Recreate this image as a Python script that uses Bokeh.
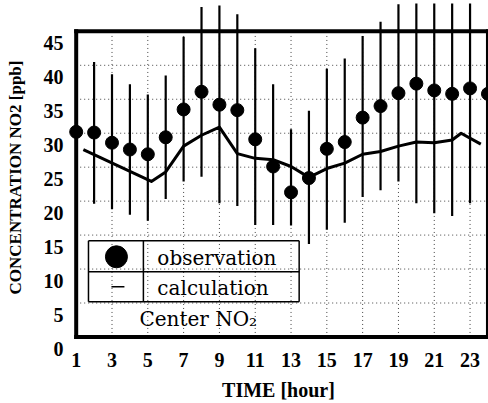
from bokeh.plotting import figure
from bokeh.models import Range1d, LinearAxis, FixedTicker
from bokeh.embed import file_html
from bokeh.resources import INLINE
from bokeh.core.properties import value

# ---------------- data ----------------
hours = list(range(1, 25))
obs = [30.2, 30.1, 28.6, 27.6, 26.9, 29.4, 33.5, 36.1, 34.2, 33.4, 29.1, 25.1,
       21.3, 23.4, 27.7, 28.7, 32.3, 34.0, 35.9, 37.3, 36.3, 35.8, 36.6, 35.8]
obs_low = [20.0, 19.6, 18.8, 18.0, 17.1, 20.3, 22.9, 23.6, 19.7, 19.3, 16.5, 16.5,
           16.4, 13.7, 15.8, 16.8, 20.6, 21.6, 22.9, 19.7, 18.2, 17.8, 19.7, 20.0]
obs_high = [40.4, 40.5, 38.7, 37.2, 35.7, 38.5, 44.2, 48.6, 48.8, 47.5, 42.5, 37.2,
            30.6, 33.3, 39.5, 41.0, 44.3, 46.4, 49.0, 54.9, 54.4, 53.8, 53.5, 44.0]

calc_hours = [1.4, 5.2, 6.0, 7.0, 8.0, 9.0, 10.0, 11.0, 12.0, 13.0, 14.0, 15.0,
              16.0, 17.0, 18.0, 19.0, 20.0, 21.0, 22.0, 22.5, 23.6]
calc = [27.6, 22.9, 24.3, 28.1, 29.7, 30.9, 27.0, 26.3, 26.1, 25.1, 23.5, 24.8,
        25.6, 26.9, 27.3, 28.1, 28.7, 28.6, 29.0, 30.0, 28.4]

x_ticks = [1, 3, 5, 7, 9, 11, 13, 15, 17, 19, 21, 23]
y_ticks = [0, 5, 10, 15, 20, 25, 30, 35, 40, 45]
x_box = [1, 24]
y_box = [0, 45]

# ---------------- layout constants ----------------
PX_PER_UNIT = 6.81
LABEL_SHIFT = 12 / PX_PER_UNIT      # tick labels sit a bit below their grid lines
Y_TOP, Y_BOT = 49.1, -2.14
X_START, X_END = 0.57, 24.03

BLACK = "black"
SERIF = "Liberation Serif"

p = figure(width=488, height=403, output_backend="svg", toolbar_location=None,
           x_range=Range1d(X_START, X_END), y_range=Range1d(Y_BOT, Y_TOP),
           y_axis_location=None,
           min_border_left=68, min_border_right=0, min_border_top=3,
           min_border_bottom=51)
p.outline_line_color = None
p.grid.visible = False
p.background_fill_color = "white"
p.border_fill_color = "white"

# x axis
xa = p.xaxis[0]
xa.ticker = FixedTicker(ticks=x_ticks)
xa.axis_line_color = None
xa.major_tick_line_color = None
xa.minor_tick_line_color = None
xa.major_tick_out = 0
xa.major_tick_in = 0
xa.minor_tick_out = 0
xa.major_label_text_font = SERIF
xa.major_label_text_font_style = "bold"
xa.major_label_text_font_size = "20px"
xa.major_label_text_color = BLACK
xa.major_label_standoff = 1
xa.axis_label = "TIME [hour]"
xa.axis_label_text_font = SERIF
xa.axis_label_text_font_style = "bold"
xa.axis_label_text_font_size = "20px"
xa.axis_label_text_color = BLACK
xa.axis_label_standoff = 9

# y axis (labels drawn on a slightly shifted range, as in the reference)
p.extra_y_ranges = {"labels": Range1d(Y_BOT + LABEL_SHIFT, Y_TOP + LABEL_SHIFT)}
ya = LinearAxis(y_range_name="labels", ticker=FixedTicker(ticks=y_ticks),
                axis_label="CONCENTRATION NO2 [ppb]", bounds=(0, 46.4))
ya.axis_line_color = None
ya.major_tick_line_color = None
ya.minor_tick_line_color = None
ya.major_tick_out = 0
ya.major_tick_in = 0
ya.minor_tick_out = 0
ya.major_label_text_font = SERIF
ya.major_label_text_font_style = "bold"
ya.major_label_text_font_size = "20px"
ya.major_label_text_color = BLACK
ya.major_label_standoff = 5
ya.axis_label_text_font = SERIF
ya.axis_label_text_font_style = "bold"
ya.axis_label_text_font_size = "17px"
ya.axis_label_text_color = BLACK
ya.axis_label_standoff = 16
p.add_layout(ya, "left")

# dotted grid inside the box
n = len(x_ticks)
p.segment(x0=x_ticks, y0=[y_box[0]] * n, x1=x_ticks, y1=[y_box[1]] * n,
          line_color="#444444", line_width=1, line_dash="1 3")
hg = y_ticks[1:-1]
m = len(hg)
p.segment(x0=[x_box[0]] * m, y0=hg, x1=[x_box[1]] * m, y1=hg,
          line_color="#444444", line_width=1, line_dash="1 3")

# thick frame box (four sides)
p.segment(x0=[x_box[0], x_box[0], x_box[0], x_box[1]],
          y0=[y_box[0], y_box[1], y_box[0], y_box[0]],
          x1=[x_box[1], x_box[1], x_box[0], x_box[1]],
          y1=[y_box[0], y_box[1], y_box[1], y_box[1]],
          line_color=BLACK, line_width=4, line_cap="square")

# error bars, calculation line, observation points
p.segment(x0=hours, y0=obs_low, x1=hours, y1=obs_high,
          line_color=BLACK, line_width=2.2)
p.line(calc_hours, calc, line_color=BLACK, line_width=3, line_join="round")
p.scatter(hours, obs, size=13, fill_color=BLACK, line_color=BLACK)

# ---------------- legend table (layout positions in reference pixels) ----------------
def hx(px):
    return 1 + (px - 75.7) / 17.93

def vy(py):
    return (337.4 - py) / 6.81

t_left, t_right, t_div = hx(88), hx(299), hx(143)
t_top, t_mid, t_bot = vy(241), vy(272), vy(302)
p.segment(x0=[t_left, t_left, t_left, t_left, t_right, t_div],
          y0=[t_top, t_mid, t_bot, t_top, t_top, t_top],
          x1=[t_right, t_right, t_right, t_left, t_right, t_div],
          y1=[t_top, t_mid, t_bot, t_bot, t_bot, t_bot],
          line_color=BLACK, line_width=1.5)
p.scatter([hx(116)], [vy(257)], size=22, fill_color=BLACK, line_color=BLACK)
p.segment(x0=[hx(111)], y0=[vy(287)], x1=[hx(124)], y1=[vy(287)],
          line_color=BLACK, line_width=1.5)
p.text(x=[hx(157), hx(157), hx(139)], y=[vy(258), vy(288), vy(319)],
       text=["observation", "calculation", "Center NO₂"],
       text_font=value("DejaVu Serif"), text_font_size="20px",
       text_color=BLACK, text_baseline="middle", text_align="left")

open("out.html", "w").write(file_html(p, INLINE))
